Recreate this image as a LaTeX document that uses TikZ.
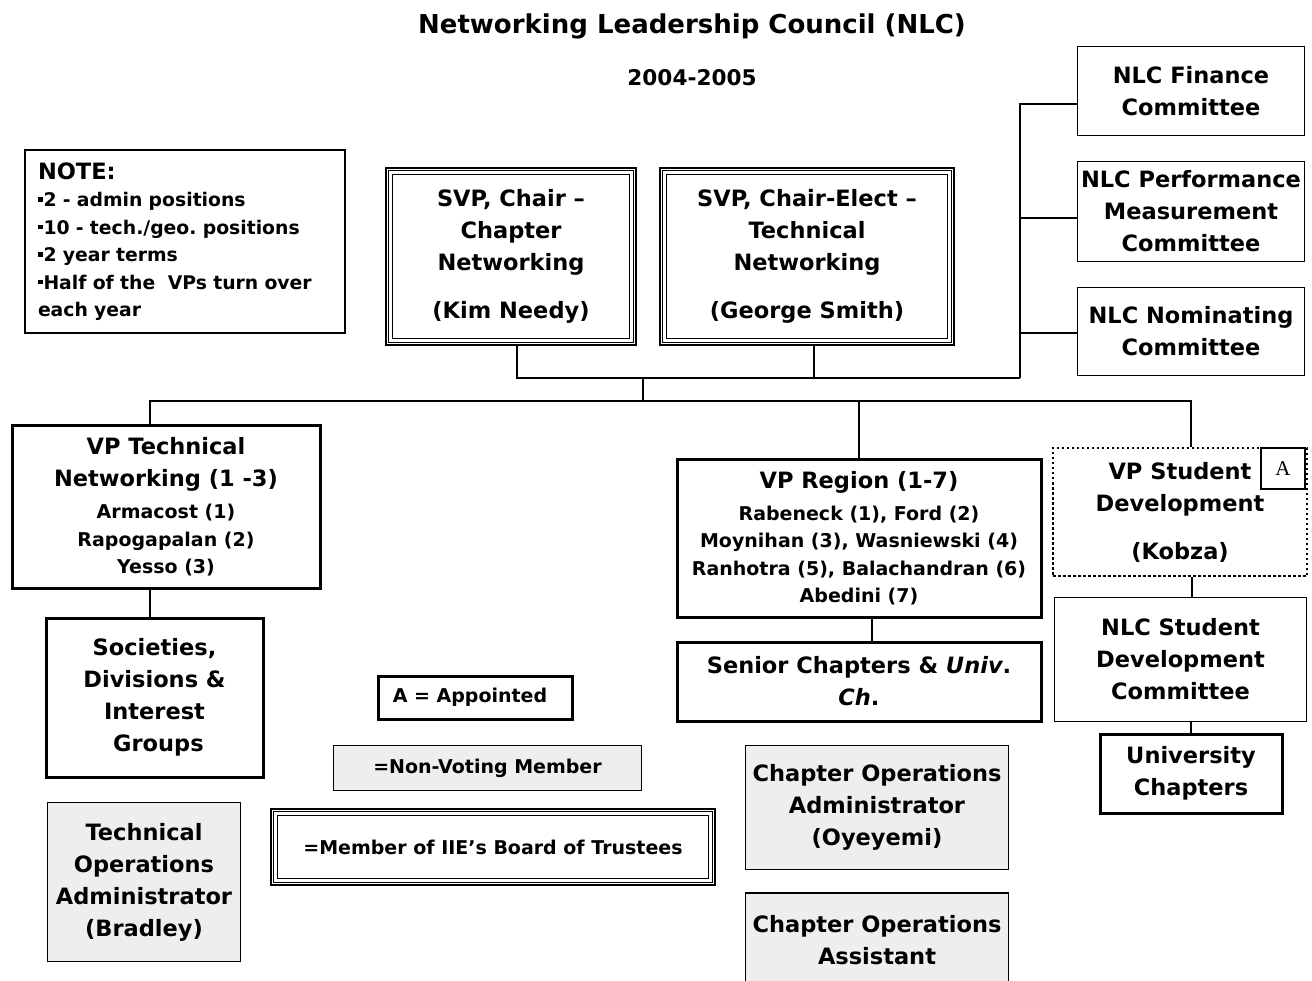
\documentclass[tikz,border=0pt]{standalone}
\usepackage{fontspec}
\setmainfont{DejaVu Sans}
\newfontfamily\serifA{Liberation Serif}
\usetikzlibrary{calc}
\frenchspacing
\definecolor{boxgray}{HTML}{EEEEEE}
\newcommand{\nmline}[1]{{\fontsize{19}{27.5}\selectfont #1}}
\newcommand{\bul}{\rule[5pt]{4.5pt}{4.5pt}\hspace{1pt}}
\begin{document}
\begin{tikzpicture}[x=1pt,y=-1pt,
  base/.style={rectangle, inner sep=0pt, align=center, text=black,
    font=\bfseries\fontsize{22.5}{32}\selectfont},
  thinbox/.style={base, draw, line width=1.5pt},
  thickbox/.style={base, draw, line width=3pt},
  graybox/.style={thinbox, fill=boxgray},
  triplebox/.style={base, draw, line width=1.6pt},
  dotbox/.style={base, draw, line width=2.5pt, dash pattern=on 2.5pt off 2.5pt},
  conn/.style={line width=1.3pt},
  inner1/.style={line width=1.5pt},
  inner2/.style={line width=1.1pt}
]
\useasboundingbox (0,0) rectangle (1312,981);
\clip (0,0) rectangle (1312,981);
\fill[white] (0,0) rectangle (1312,981);

% titles
\node[base, font=\bfseries\fontsize{26}{30}\selectfont] (title) at (692,26) {Networking Leadership Council (NLC)};
\node[base, font=\bfseries\fontsize{21.6}{26}\selectfont] (years) at (692,78) {2004-2005};

% note
\node[thinbox, align=left, text width=294pt, minimum width=320pt, minimum height=183pt,
  font=\bfseries\fontsize{18.8}{27.5}\selectfont] (note) at (185,241.5)
  {{\fontsize{22.5}{27.5}\selectfont NOTE:}\\\bul 2 - admin positions\\\bul 10 - tech./geo. positions\\\bul 2 year terms\\\bul Half of the \ VPs turn over\\each year};

% SVPs
\node[triplebox, minimum width=250pt, minimum height=177pt] (chair) at (511,256.5)
  {SVP, Chair –\\Chapter\\Networking\\[16pt](Kim Needy)};
\draw[inner1] ([shift={(3.5,3.5)}]chair.north west) rectangle ([shift={(-3.5,-3.5)}]chair.south east);
\draw[inner2] ([shift={(7.5,7.5)}]chair.north west) rectangle ([shift={(-7.5,-7.5)}]chair.south east);
\node[triplebox, minimum width=294pt, minimum height=177pt] (elect) at (807,256.5)
  {SVP, Chair-Elect –\\Technical\\Networking\\[16pt](George Smith)};
\draw[inner1] ([shift={(3.5,3.5)}]elect.north west) rectangle ([shift={(-3.5,-3.5)}]elect.south east);
\draw[inner2] ([shift={(7.5,7.5)}]elect.north west) rectangle ([shift={(-7.5,-7.5)}]elect.south east);

% committees
\node[thinbox, minimum width=227pt, minimum height=89pt] (fin) at (1191,91) {NLC Finance\\Committee};
\node[thinbox, minimum width=227pt, minimum height=100pt] (perf) at (1191,211.5) {NLC Performance\\Measurement\\Committee};
\node[thinbox, minimum width=227pt, minimum height=88pt] (nom) at (1191,331.5) {NLC Nominating\\Committee};

% VPs
\node[thickbox, minimum width=308pt, minimum height=163pt] (tech) at (166,507)
  {VP Technical\\Networking (1 -3)\\\nmline{Armacost (1)}\\[-4.5pt]\nmline{Rapogapalan (2)}\\[-4.5pt]\nmline{Yesso (3)}};
\node[thickbox, minimum width=217pt, minimum height=159pt] (soc) at (154.5,697.5)
  {Societies,\\Divisions \&\\Interest\\\ Groups};
\node[graybox, minimum width=193pt, minimum height=159pt] (tadmin) at (144,882)
  {Technical\\Operations\\Administrator\\(Bradley)};

\node[thickbox, minimum width=364pt, minimum height=158pt] (region) at (859,538)
  {VP Region (1-7)\\\nmline{Rabeneck (1), Ford (2)}\\[-4.5pt]\nmline{Moynihan (3), Wasniewski (4)}\\[-4.5pt]\nmline{Ranhotra (5), Balachandran (6)}\\[-4.5pt]\nmline{Abedini (7)}};
\node[thickbox, minimum width=364pt, minimum height=79pt] (senior) at (859,681.5)
  {Senior Chapters \& {\itshape Univ}.\\{\itshape Ch}.};

\node[dotbox, minimum width=254pt, minimum height=128pt] (student) at (1180,512)
  {VP Student\\Development\\[16pt](Kobza)};
\node[base, draw, line width=2.5pt, minimum width=44pt, minimum height=41pt,
  font=\serifA\fontsize{21}{24}\selectfont] (abox) at (1283,468.5) {A};
\node[thinbox, minimum width=252pt, minimum height=124pt] (sdc) at (1180.5,659.5)
  {NLC Student\\Development\\Committee};
\node[thickbox, minimum width=182pt, minimum height=79pt] (univ) at (1191,773.5)
  {University\\Chapters};

% legend
\node[thickbox, minimum width=194pt, minimum height=43pt, font=\bfseries\fontsize{19}{24}\selectfont] (appt) at (475,697.5) {A = Appointed\hspace{10pt}};
\node[graybox, minimum width=308pt, minimum height=45pt, font=\bfseries\fontsize{19}{24}\selectfont] (nonv) at (487.5,768) {=Non-Voting Member};
\node[triplebox, minimum width=444pt, minimum height=76pt, font=\bfseries\fontsize{19}{24}\selectfont] (board) at (493,847) {=Member of IIE\char"0027 s Board of Trustees};
\draw[inner1] ([shift={(3.5,3.5)}]board.north west) rectangle ([shift={(-3.5,-3.5)}]board.south east);
\draw[inner2] ([shift={(7.5,7.5)}]board.north west) rectangle ([shift={(-7.5,-7.5)}]board.south east);

% chapter ops
\node[graybox, minimum width=263pt, minimum height=124pt] (coadmin) at (877,807.5)
  {Chapter Operations\\Administrator\\(Oyeyemi)};
\node[graybox, minimum width=263pt, minimum height=94pt] (coassist) at (877,940)
  {Chapter Operations\\Assistant};

% connectors
\coordinate (spine) at (1020,378);
\coordinate (hub) at (643,378);
\coordinate (bus) at (643,401);
\draw[conn] ([xshift=6pt]chair.south) |- (spine);
\draw[conn] ([xshift=7pt]elect.south) -- ([xshift=7pt]elect.south |- spine);
\draw[conn] ([yshift=-13pt]fin.west) -| (spine);
\draw[conn] ([yshift=-6.5pt]perf.west) -- ([yshift=-6.5pt]perf.west -| spine);
\draw[conn] ([yshift=-1.5pt]nom.west) -- ([yshift=-1.5pt]nom.west -| spine);
\draw[conn] (hub) -- (bus);
\draw[conn] ([xshift=-16pt]tech.north) |- (bus) -| ([xshift=11pt]student.north);
\draw[conn] (region.north) -- (region.north |- bus);
\draw[conn] ([xshift=-16pt]tech.south) -- ([xshift=-16pt]tech.south |- soc.north);
\draw[conn] ([xshift=13pt]region.south) -- ([xshift=13pt]region.south |- senior.north);
\draw[conn] ([xshift=12pt]student.south) -- ([xshift=12pt]student.south |- sdc.north);
\draw[conn] (univ.north) -- (univ.north |- sdc.south);
\end{tikzpicture}
\end{document}
